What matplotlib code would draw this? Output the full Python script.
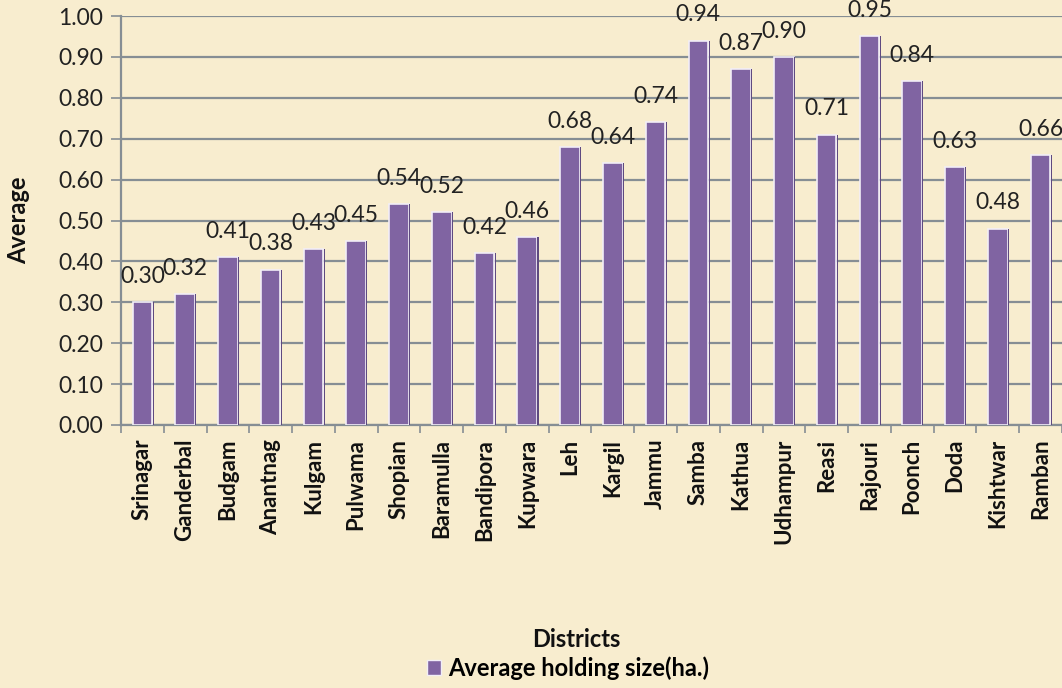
import matplotlib
matplotlib.use("Agg")
from matplotlib import pyplot as plt
from matplotlib.patches import Patch

districts = ['Srinagar', 'Ganderbal', 'Budgam', 'Anantnag', 'Kulgam', 'Pulwama',
             'Shopian', 'Baramulla', 'Bandipora', 'Kupwara', 'Leh', 'Kargil',
             'Jammu', 'Samba', 'Kathua', 'Udhampur', 'Reasi', 'Rajouri',
             'Poonch', 'Doda', 'Kishtwar', 'Ramban']
avg_holding = [0.30, 0.32, 0.41, 0.38, 0.43, 0.45, 0.54, 0.52, 0.42, 0.46, 0.68,
               0.64, 0.74, 0.94, 0.87, 0.90, 0.71, 0.95, 0.84, 0.63, 0.48, 0.66]
y_ticks = [0.0, 0.1, 0.2, 0.3, 0.4, 0.5, 0.6, 0.7, 0.8, 0.9, 1.0]

bg = '#F8EDCF'
bar_col = '#8064A2'
grid_col = '#868E94'

plt.rcParams['font.family'] = ['Lato', 'DejaVu Sans']

fig = plt.figure(figsize=(10.62, 6.88), dpi=100, facecolor=bg)
ax = fig.add_axes([0.1139, 0.3823, 0.886, 0.5944])
ax.set_facecolor(bg)

x = list(range(len(districts)))
w = 0.46
ax.bar(x, avg_holding, width=w, color=bar_col, edgecolor='#F2EEF7', linewidth=1.2, zorder=3)
# thin dark edge on the right side of each bar
ax.bar([i + w / 2 + 0.02 for i in x], avg_holding, width=0.025, color='#5F4A80',
       linewidth=0, zorder=3)

for i, v in zip(x, avg_holding):
    ax.annotate(f'{v:.2f}', (i, v), xytext=(0, 11), textcoords='offset points',
                ha='center', va='bottom', fontsize=16.5, color='#222222',
                annotation_clip=False, zorder=4)

ax.set_xlim(-0.5, len(districts) - 0.5)
ax.set_ylim(0, 1.0)
ax.set_yticks(y_ticks)
ax.set_yticklabels([f'{t:.2f}' for t in y_ticks], fontsize=16.5, color='#222222')
ax.yaxis.grid(True, color=grid_col, linewidth=1.6, zorder=0)
ax.set_axisbelow(True)

ax.set_xticks(x)
ax.set_xticklabels(districts, rotation=90, fontsize=16, fontweight='bold', color='#111111')
ax.set_xticks([i - 0.5 for i in range(len(districts) + 1)], minor=True)
ax.tick_params(axis='x', which='major', length=0, pad=10)
ax.tick_params(axis='x', which='minor', length=6, color=grid_col, width=1.2)
ax.tick_params(axis='y', length=7, color=grid_col, width=1.2, pad=6)

for s in ['top', 'right']:
    ax.spines[s].set_visible(False)
for s in ['left', 'bottom']:
    ax.spines[s].set_color(grid_col)
    ax.spines[s].set_linewidth(1.6)

fig.text(0.018, 0.68, 'Average', rotation=90, ha='center', va='center',
         fontsize=17, fontweight='bold', color='#111111')
fig.text(0.543, 0.07, 'Districts', ha='center', va='center',
         fontsize=17, fontweight='bold', color='#111111')
fig.legend(handles=[Patch(facecolor=bar_col, edgecolor='#F2EEF7', label='Average holding size(ha.)')],
           loc='center', bbox_to_anchor=(0.535, 0.029), frameon=False,
           prop={'size': 17, 'weight': 'bold'}, handlelength=0.6, handleheight=0.6,
           handletextpad=0.3)

fig.savefig('out.png', dpi=100, facecolor=bg)
